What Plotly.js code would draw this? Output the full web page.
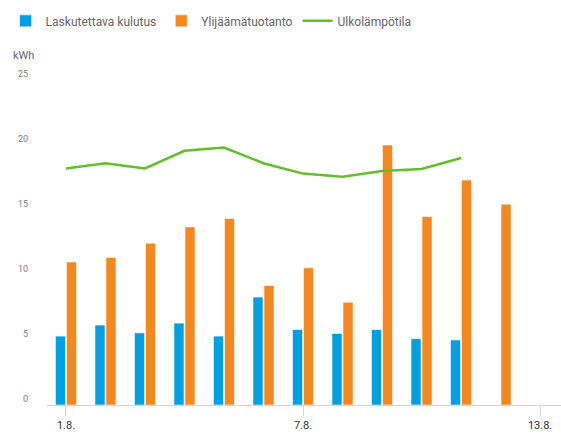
<!DOCTYPE html>
<html>
<head>
<meta charset="utf-8">
<script src="https://cdn.plot.ly/plotly-3.0.1.min.js"></script>
<style>html,body{margin:0;padding:0;background:#fff;}#chart{width:561px;height:444px;}</style>
</head>
<body>
<div id="chart"></div>
<script>
const days = [1, 2, 3, 4, 5, 6, 7, 8, 9, 10, 11, 12];
const consumption = [5.3, 6.15, 5.55, 6.3, 5.3, 8.3, 5.8, 5.5, 5.8, 5.1, 5.0, null];
const surplus = [11.0, 11.35, 12.45, 13.7, 14.35, 9.2, 10.55, 7.9, 20.0, 14.5, 17.3, 15.45];
const temperature = [18.2, 18.6, 18.2, 19.55, 19.8, 18.6, 17.8, 17.55, 18.0, 18.15, 19.0, null];
const tickDays = [1, 7, 13];
const tickLabels = ['1.8.', '7.8.', '13.8.'];
const yTicks = [0, 5, 10, 15, 20, 25];
const names = ['Laskutettava kulutus', 'Ylijäämätuotanto', 'Ulkolämpötila'];

const font = 'Roboto, "Open Sans", sans-serif';

const traces = [
  {type: 'bar', name: names[0], x: days, y: consumption,
   marker: {color: '#00a0e3', line: {color: 'rgba(255,255,255,0.55)', width: 1}}},
  {type: 'bar', name: names[1], x: days, y: surplus,
   marker: {color: '#f5871f', line: {color: 'rgba(255,255,255,0.55)', width: 1}}},
  {type: 'scatter', mode: 'lines', name: names[2], x: days, y: temperature,
   line: {color: '#62bf28', width: 2.5}}
];

const layout = {
  width: 561, height: 444,
  margin: {l: 47, r: 0, t: 80, b: 39, autoexpand: false},
  paper_bgcolor: '#fff', plot_bgcolor: '#fff',
  barmode: 'group', bargap: 0.443, bargroupgap: 0.09,
  hovermode: false,
  font: {family: font, color: '#666'},
  showlegend: true,
  legend: {orientation: 'h', xref: 'container', yref: 'container', x: 0.01, xanchor: 'left',
           y: 0.953, yanchor: 'middle',
           font: {family: font, size: 12, color: '#666'}, itemwidth: 30, traceorder: 'normal'},
  xaxis: {range: [0.52, 13.53], tickmode: 'array', tickvals: tickDays, ticktext: tickLabels,
          showline: true, linecolor: '#ccd6eb', linewidth: 1, ticks: 'outside', ticklen: 10,
          tickcolor: '#ccd6eb', tickwidth: 1, showgrid: false, zeroline: false,
          tickfont: {family: font, size: 11, color: '#333'}},
  yaxis: {range: [0, 25], tickmode: 'array', tickvals: yTicks, showgrid: false, zeroline: false,
          showline: false, ticks: '', ticklabelstandoff: 18, ticklabelshift: -6,
          tickfont: {family: font, size: 9, color: '#808080'}},
  annotations: [{text: 'kWh', xref: 'paper', yref: 'paper', x: -0.045, y: 1.075,
                 xanchor: 'center', yanchor: 'middle', showarrow: false,
                 font: {family: font, size: 11, color: '#666'}}]
};

Plotly.newPlot('chart', traces, layout, {displayModeBar: false, staticPlot: true});
</script>
</body>
</html>
